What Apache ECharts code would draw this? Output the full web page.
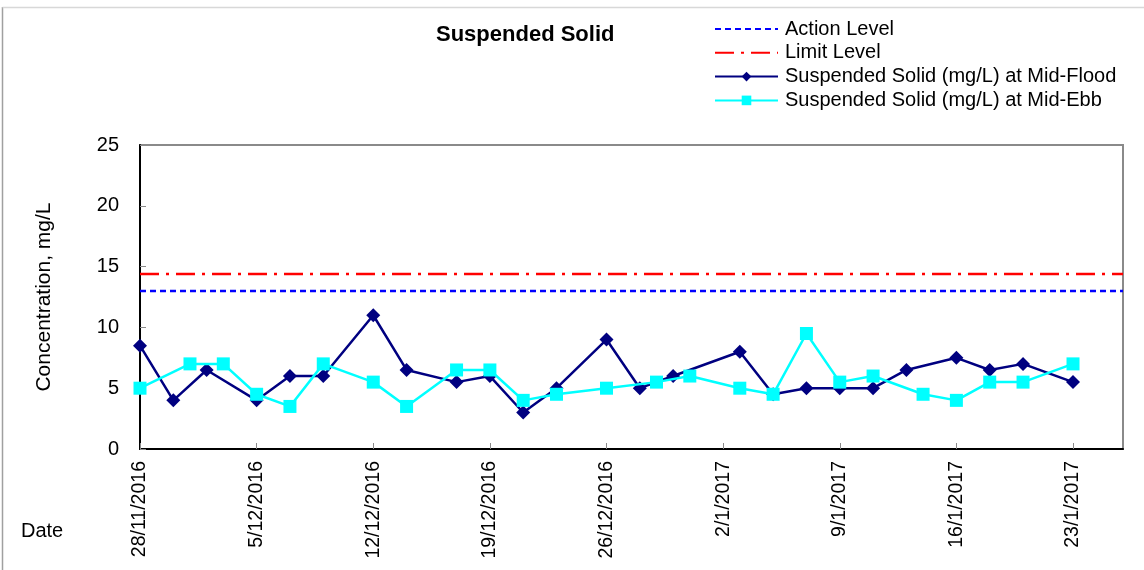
<!DOCTYPE html>
<html>
<head>
<meta charset="utf-8">
<script src="https://cdn.jsdelivr.net/npm/echarts@6/dist/echarts.min.js"></script>
<style>
  html, body { margin: 0; padding: 0; background: #fff; }
  #chart { width: 1144px; height: 570px; }
</style>
</head>
<body>
<div id="chart"></div>
<script>
// ---- Data ----
const startDate = '28/11/2016';
const endDate = '26/1/2017';
const tickIntervalDays = 7;

const actionLevel = 13;
const limitLevel = 14.4;

const floodDates = ['28/11/2016','30/11/2016','2/12/2016','5/12/2016','7/12/2016','9/12/2016',
  '12/12/2016','14/12/2016','17/12/2016','19/12/2016','21/12/2016','23/12/2016',
  '26/12/2016','28/12/2016','30/12/2016','3/1/2017','5/1/2017','7/1/2017',
  '9/1/2017','11/1/2017','13/1/2017','16/1/2017','18/1/2017','20/1/2017','23/1/2017'];
const floodValues = [8.5, 4, 6.5, 4, 6, 6, 11, 6.5, 5.5, 6, 3, 5, 9, 5, 6, 8, 4.5, 5, 5, 5, 6.5, 7.5, 6.5, 7, 5.5];

const ebbDates = ['28/11/2016','1/12/2016','3/12/2016','5/12/2016','7/12/2016','9/12/2016',
  '12/12/2016','14/12/2016','17/12/2016','19/12/2016','21/12/2016','23/12/2016',
  '26/12/2016','29/12/2016','31/12/2016','3/1/2017','5/1/2017','7/1/2017',
  '9/1/2017','11/1/2017','14/1/2017','16/1/2017','18/1/2017','20/1/2017','23/1/2017'];
const ebbValues = [5, 7, 7, 4.5, 3.5, 7, 5.5, 3.5, 6.5, 6.5, 4, 4.5, 5, 5.5, 6, 5, 4.5, 9.5, 5.5, 6, 4.5, 4, 5.5, 5.5, 7];

// ---- Helpers ----
const DAY = 86400000;
function parseDMY(s) {
  const p = s.split('/').map(Number);
  return Date.UTC(p[2], p[1] - 1, p[0]);
}
const t0 = parseDMY(startDate);
function dayIndex(s) { return Math.round((parseDMY(s) - t0) / DAY); }
function dayLabel(v) {
  const d = new Date(t0 + v * DAY);
  return d.getUTCDate() + '/' + (d.getUTCMonth() + 1) + '/' + d.getUTCFullYear();
}
const xMin = 0;
const xMax = dayIndex(endDate);

const FONT = "'Liberation Sans', Arial, sans-serif";

const chart = echarts.init(document.getElementById('chart'), null, { renderer: 'canvas' });

chart.setOption({
  backgroundColor: '#ffffff',
  animation: false,
  textStyle: { fontFamily: FONT, color: '#000' },
  title: {
    text: 'Suspended Solid',
    left: 436,
    top: 24,
    padding: 0,
    textStyle: { fontFamily: FONT, fontSize: 22, fontWeight: 'bold', color: '#000' }
  },
  graphic: [
    { type: 'line', shape: { x1: 2.5, y1: 7, x2: 2.5, y2: 570 }, style: { stroke: '#a0a0a0', lineWidth: 1.5 }, silent: true },
    { type: 'line', shape: { x1: 2.5, y1: 7.5, x2: 1144, y2: 7.5 }, style: { stroke: '#d8d8d8', lineWidth: 1.5 }, silent: true },
    { type: 'text', left: 21, top: 521, style: { text: 'Date', fontFamily: FONT, fontSize: 20, fill: '#000' }, silent: true }
  ],
  legend: {
    orient: 'vertical',
    left: 714,
    top: 19,
    padding: 0,
    itemWidth: 63,
    itemHeight: 12,
    itemGap: 3.8,
    textStyle: { fontFamily: FONT, fontSize: 20, color: '#000', lineHeight: 20, padding: [0, 0, 0, 2] },
    data: [
      { name: 'Action Level', itemStyle: { opacity: 0 } },
      { name: 'Limit Level', itemStyle: { opacity: 0 } },
      { name: 'Suspended Solid (mg/L) at Mid-Flood' },
      { name: 'Suspended Solid (mg/L) at Mid-Ebb' }
    ]
  },
  grid: {
    left: 140, right: 21, top: 145, bottom: 121,
    show: true, borderColor: '#8a8a8a', borderWidth: 2, backgroundColor: 'transparent'
  },
  xAxis: {
    type: 'value',
    min: xMin,
    max: xMax,
    interval: tickIntervalDays,
    axisLine: { show: true, onZero: false, lineStyle: { color: '#000', width: 2 } },
    axisTick: { show: true, inside: true, length: 6, lineStyle: { color: '#8a8a8a', width: 1 } },
    splitLine: { show: false },
    axisLabel: {
      rotate: 90,
      margin: 12,
      showMaxLabel: false,
      fontFamily: FONT, fontSize: 19.5, color: '#000',
      formatter: function (v) { return dayLabel(v); }
    }
  },
  yAxis: {
    type: 'value',
    min: 0, max: 25, interval: 5,
    name: 'Concentration, mg/L',
    nameLocation: 'middle',
    nameRotate: 90,
    nameGap: 85,
    nameTextStyle: { fontFamily: FONT, fontSize: 21, color: '#000' },
    axisLine: { show: true, lineStyle: { color: '#000', width: 2 } },
    axisTick: { show: true, inside: true, length: 6, lineStyle: { color: '#8a8a8a', width: 1 } },
    splitLine: { show: false },
    axisLabel: { margin: 21, fontFamily: FONT, fontSize: 20, color: '#000' }
  },
  series: [
    {
      name: 'Action Level',
      type: 'line',
      symbol: 'none',
      lineStyle: { color: '#0000ff', width: 2.5, type: [6, 4] },
      itemStyle: { color: '#0000ff' },
      data: [[xMin, actionLevel], [xMax, actionLevel]],
      z: 2
    },
    {
      name: 'Limit Level',
      type: 'line',
      symbol: 'none',
      lineStyle: { color: '#ff0000', width: 2.5, type: [19, 7, 3, 7] },
      itemStyle: { color: '#ff0000' },
      data: [[xMin, limitLevel], [xMax, limitLevel]],
      z: 2
    },
    {
      name: 'Suspended Solid (mg/L) at Mid-Flood',
      type: 'line',
      symbol: 'diamond',
      symbolSize: 14,
      showAllSymbol: true,
      lineStyle: { color: '#000080', width: 2.5 },
      itemStyle: { color: '#000080', borderWidth: 0 },
      data: floodDates.map((d, i) => [dayIndex(d), floodValues[i]]),
      z: 3
    },
    {
      name: 'Suspended Solid (mg/L) at Mid-Ebb',
      type: 'line',
      symbol: 'rect',
      symbolSize: 13,
      showAllSymbol: true,
      lineStyle: { color: '#00ffff', width: 2.5 },
      itemStyle: { color: '#00ffff', borderWidth: 0 },
      data: ebbDates.map((d, i) => [dayIndex(d), ebbValues[i]]),
      z: 4
    }
  ]
});
</script>
</body>
</html>
